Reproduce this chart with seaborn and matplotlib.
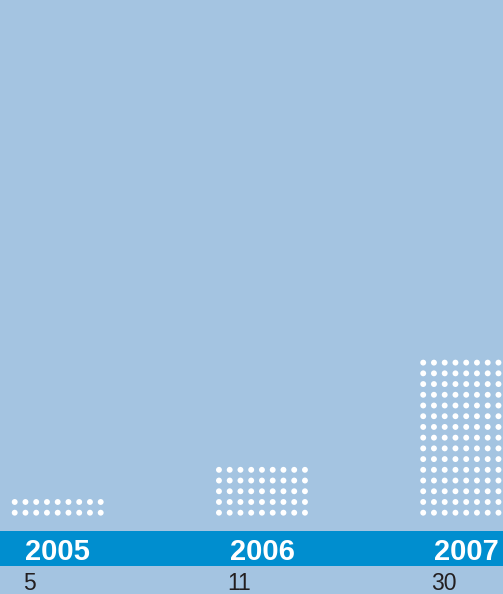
import pandas as pd
import numpy as np
import matplotlib.pyplot as plt
import seaborn as sns

years = ["2005", "2006", "2007"]
values = [5, 11, 30]
units_per_row = 2
cols_per_block = 9

BG = "#a4c4e1"
BAND = "#008ecf"
TEXT = "#231f20"

# one dot row per 2 units, 9 dots wide
rows = []
for i, (yr, v) in enumerate(zip(years, values)):
    n_rows = v // units_per_row
    for r in range(n_rows):
        for c in range(cols_per_block):
            rows.append({"year": yr, "x": i * 19 + c, "y": r})
dots = pd.DataFrame(rows)

fig = plt.figure(figsize=(5.03, 5.94), dpi=100, facecolor=BG)
ax = fig.add_axes([0, 0, 1, 1])
ax.set_facecolor(BG)

sns.scatterplot(data=dots, x="x", y="y", color="white", s=18,
                edgecolor="none", legend=False, ax=ax)

# pixel mapping: dot pitch 10.75 px, first column at 14.7 px, first row at 512.7 px
px = 10.75
py = 10.72
ax.set_xlim(-14.7 / px, (503 - 14.7) / px)
ax.set_ylim(-(594 - 512.7) / py, 512.7 / py)
ax.axis("off")

# blue band with years
ax.axhspan(-(565.5 - 512.7) / py, -(531 - 512.7) / py, color=BAND, lw=0, zorder=0)

for i, (yr, v) in enumerate(zip(years, values)):
    cx = i * 19 + (cols_per_block - 1) / 2
    ax.text(cx, -(560 - 512.7) / py, yr, ha="center", va="baseline",
            color="white", fontsize=21, fontweight="bold",
            family=["Liberation Sans", "DejaVu Sans"])
    ax.text(i * 19 + 0.75, -(590.5 - 512.7) / py, str(v), ha="left", va="baseline",
            color=TEXT, fontsize=16.5,
            family=["Liberation Sans Narrow", "Liberation Sans", "DejaVu Sans"])

fig.savefig("out.png", dpi=100, facecolor=BG)
plt.close(fig)
